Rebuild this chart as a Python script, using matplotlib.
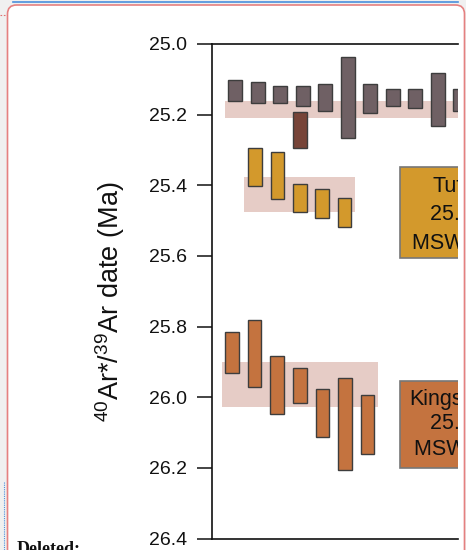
import matplotlib
matplotlib.use("Agg")
import matplotlib.pyplot as plt
from matplotlib.patches import Rectangle, FancyBboxPatch
import numpy as np

plt.rcParams['font.family'] = ['Liberation Sans', 'DejaVu Sans']
plt.rcParams['mathtext.fontset'] = 'custom'
plt.rcParams['mathtext.rm'] = 'Liberation Sans'
plt.rcParams['mathtext.it'] = 'Liberation Sans:italic'

# ---------------- data (Ma) ----------------
grey_x = [1, 2, 3, 4, 5, 6, 7, 8, 9, 10, 11]
grey_lo = [25.102, 25.107, 25.118, 25.119, 25.113, 25.038, 25.113, 25.127, 25.127, 25.083, 25.127]
grey_hi = [25.161, 25.166, 25.166, 25.176, 25.190, 25.267, 25.195, 25.175, 25.181, 25.233, 25.191]

brown_x = [3.87]
brown_lo = [25.193]
brown_hi = [25.295]

yellow_x = [1.87, 2.87, 3.87, 4.86, 5.85]
yellow_lo = [25.295, 25.305, 25.397, 25.410, 25.435]
yellow_hi = [25.402, 25.438, 25.477, 25.493, 25.519]

orange_x = [0.85, 1.85, 2.86, 3.87, 4.87, 5.88, 6.88]
orange_lo = [25.816, 25.781, 25.882, 25.917, 25.976, 25.947, 25.993]
orange_hi = [25.932, 25.970, 26.047, 26.017, 26.112, 26.206, 26.161]

# weighted-mean bands: (x0, x1, y_lo, y_hi)
bands = [(0.54, 12.0, 25.160, 25.210),
         (1.40, 6.31, 25.376, 25.477),
         (0.40, 7.34, 25.900, 26.027)]

yticks = [25.0, 25.2, 25.4, 25.6, 25.8, 26.0, 26.2, 26.4]
ytick_labels = ["25.0", "25.2", "25.4", "25.6", "25.8", "26.0", "26.2", "26.4"]

tu_lines = ["Tuff", "25.43 Ma", "MSWD = 1.2"]
kings_lines = ["Kingston", "25.96 Ma", "MSWD = 1.4"]

c_grey = "#6f6064"
c_brown = "#774438"
c_yellow = "#d3992c"
c_orange = "#c4733f"
c_band = "#e6ccc6"
c_edge = "#3d3d3d"

W, H = 466, 550
fig = plt.figure(figsize=(W / 100, H / 100), dpi=100)
fig.patch.set_facecolor("#f0f0f0")

# ---------------- page decorations (pixel coords) ----------------
bg = fig.add_axes([0, 0, 1, 1], zorder=0)
bg.set_xlim(0, W)
bg.set_ylim(H, 0)
bg.axis("off")
bg.add_patch(FancyBboxPatch((7.5, 5), 457, 600, boxstyle="round,pad=0,rounding_size=9",
                            facecolor="white", edgecolor="#e58080", lw=1.2))
bg.plot([13, 458], [1.5, 1.5], color="#4a8fdc", lw=1.2)
bg.plot([0, 7], [15, 15], color="#e07070", lw=0.8, ls=(0, (1.5, 1.5)))
bg.plot([3.5, 3.5], [482, 550], color="#4a8fdc", lw=0.8, ls=(0, (1, 1)))
bg.text(17, 540.5, "Deleted:", family=["Liberation Serif"], fontweight="bold",
        fontsize=13, va="top", ha="left", color="#111111")

# ---------------- main axes ----------------
L, R, T, B = 211.7, 458.0, 44.0, 538.5
ax = fig.add_axes([L / W, 1 - B / H, (R - L) / W, (B - T) / H], zorder=2)
ax.set_facecolor("none")
ax.set_ylim(26.4, 25.0)
ax.set_xlim(-0.05, 1 + (R - 235.3) / 22.5)

for x0, x1, lo, hi in bands:
    ax.add_patch(Rectangle((x0, lo), x1 - x0, hi - lo, facecolor=c_band,
                           edgecolor="none", zorder=1))

bw = 0.61
def draw(xs, lo, hi, color):
    lo = np.array(lo); hi = np.array(hi)
    ax.bar(xs, hi - lo, bottom=lo, width=bw, color=color, edgecolor=c_edge,
           linewidth=1.0, zorder=3)

draw(grey_x, grey_lo, grey_hi, c_grey)
draw(brown_x, brown_lo, brown_hi, c_brown)
draw(yellow_x, yellow_lo, yellow_hi, c_yellow)
draw(orange_x, orange_lo, orange_hi, c_orange)

def px2x(px):
    return 1 + (px - 235.3) / 22.5

# label boxes
ax.add_patch(Rectangle((px2x(400), 25.349), 5, 25.606 - 25.349, facecolor=c_yellow,
                       edgecolor="#777777", lw=1.2, zorder=3))
ax.add_patch(Rectangle((px2x(400), 25.953), 5, 26.201 - 25.953, facecolor=c_orange,
                       edgecolor="#777777", lw=1.2, zorder=3))

tu_pos = [(432, 25.403), (430, 25.483), (411.5, 25.566)]
kings_pos = [(409.5, 26.006), (430, 26.075), (414, 26.148)]
for txt, (px, y) in zip(tu_lines, tu_pos):
    ax.text(px2x(px), y, txt, fontsize=15.5, ha="left", va="center",
            color="#111111", clip_on=True, zorder=4)
for txt, (px, y) in zip(kings_lines, kings_pos):
    ax.text(px2x(px), y, txt, fontsize=15.5, ha="left", va="center",
            color="#111111", clip_on=True, zorder=4)

ax.set_yticks(yticks)
ax.set_yticklabels(ytick_labels)
ax.set_xticks([])
ax.tick_params(axis="y", direction="out", length=11, width=1.1, pad=7,
               labelsize=14, colors="#111111")
for s in ["left", "top", "bottom"]:
    ax.spines[s].set_linewidth(1.2)
    ax.spines[s].set_color("#111111")
ax.spines["right"].set_visible(False)

fig.text(110 / W, 1 - 302 / H, r"$^{40}$Ar*/$^{39}$Ar date (Ma)", rotation=90,
         ha="center", va="center", fontsize=19.5, color="#111111")

fig.savefig("out.png", dpi=100, facecolor=fig.get_facecolor())
